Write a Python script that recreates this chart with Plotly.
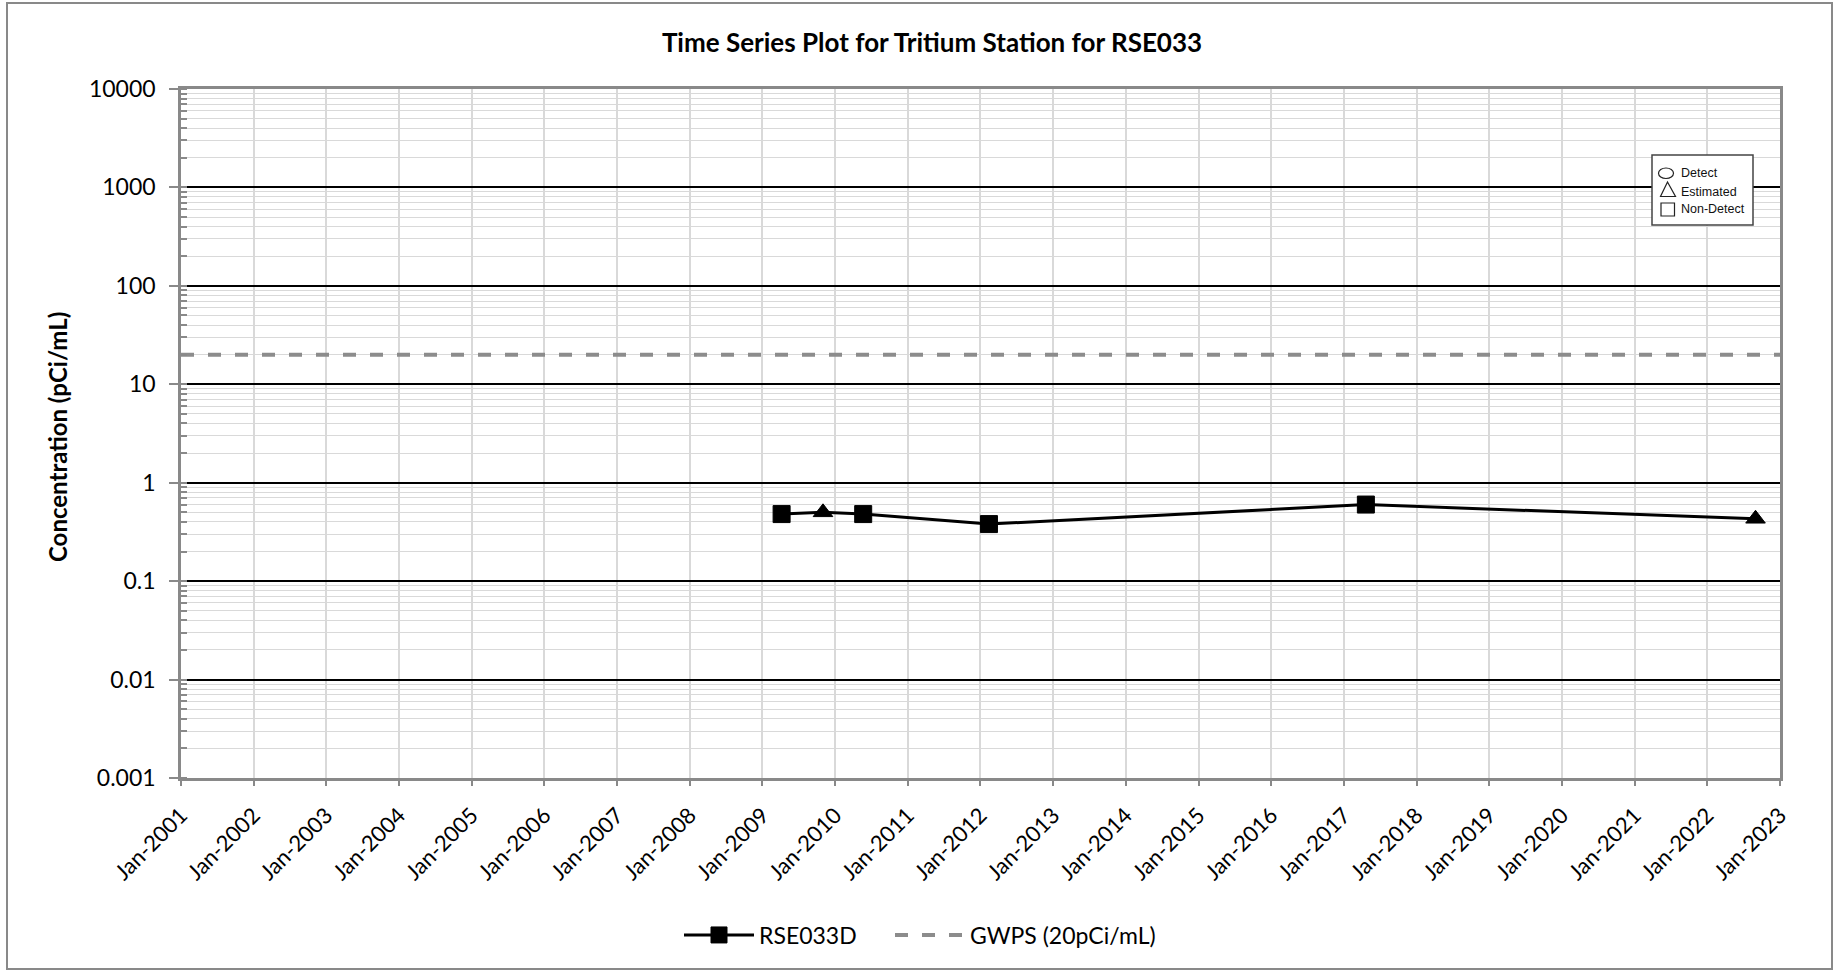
import plotly.graph_objects as go

# ---- data ----
sample_dates = ["2009-04-07", "2009-11-01", "2010-05-22", "2012-02-13", "2017-04-21", "2022-08-31"]
tritium_values = [0.48, 0.50, 0.48, 0.38, 0.60, 0.43]
sample_symbols = ["square", "triangle-up", "square", "square", "square", "triangle-up"]
gwps_dates = ["2001-01-01", "2023-01-01"]
gwps_values = [20, 20]
y_tickvals = [0.001, 0.01, 0.1, 1, 10, 100, 1000, 10000]
y_ticktext = ["0.001", "0.01", "0.1", "1", "10", "100", "1000", "10000"]

# ---- layout geometry (pixels) ----
FW, FH = 1835, 970
L, R, T, B = 181, 1780, 89, 778
PW, PH = R - L, B - T


def xp(px):
    return (px - L) / PW


def yp(py):
    return (B - py) / PH


FONT = "Lato, Carlito, 'Open Sans', sans-serif"
GRAY = "#898989"

fig = go.Figure()

fig.add_trace(go.Scatter(
    x=gwps_dates, y=gwps_values, mode="lines", name="GWPS (20pCi/mL)", legend="legend2",
    line=dict(color="#8c8c8c", width=4, dash="13px,14px"),
))
fig.add_trace(go.Scatter(
    x=sample_dates, y=tritium_values, mode="lines+markers", name="RSE033D", legend="legend",
    line=dict(color="black", width=3),
    marker=dict(symbol=sample_symbols, size=17, color="black", line=dict(color="black", width=1)),
))

shapes = [
    # outer chart border
    dict(type="rect", xref="paper", yref="paper", x0=xp(7), x1=xp(1832), y0=yp(969), y1=yp(3),
         line=dict(color=GRAY, width=2), fillcolor="rgba(0,0,0,0)", layer="below"),
    # symbol key box
    dict(type="rect", xref="paper", yref="paper", x0=xp(1652), x1=xp(1753), y0=yp(225), y1=yp(155),
         line=dict(color="#444444", width=1.5), fillcolor="white", layer="above"),
    dict(type="circle", xref="paper", yref="paper", x0=xp(1658.5), x1=xp(1673.5), y0=yp(178.5), y1=yp(168),
         line=dict(color="#222222", width=1.2), fillcolor="white"),
    dict(type="path", xref="paper", yref="paper",
         path=f"M {xp(1667.5)} {yp(182)} L {xp(1675.5)} {yp(196.5)} L {xp(1660.5)} {yp(196.5)} Z",
         line=dict(color="#222222", width=1.2), fillcolor="white"),
    dict(type="rect", xref="paper", yref="paper", x0=xp(1661), x1=xp(1674.5), y0=yp(216), y1=yp(203),
         line=dict(color="#222222", width=1.2), fillcolor="white"),
]

annotations = [
    dict(text="Detect", x=xp(1679), y=yp(173.3)),
    dict(text="Estimated", x=xp(1679), y=yp(191.5)),
    dict(text="Non-Detect", x=xp(1679), y=yp(208.5)),
]
annotations = [dict(a, xref="paper", yref="paper", xanchor="left", yanchor="middle", showarrow=False,
                    font=dict(family="'Liberation Sans', Arial, sans-serif", size=12.5, color="#111"))
               for a in annotations]
annotations.append(dict(
    text="<b>Concentration (pCi/mL)</b>", textangle=-90, x=xp(57), y=yp(437),
    xref="paper", yref="paper", xanchor="center", yanchor="middle", showarrow=False,
    font=dict(family=FONT, size=24, color="black"),
))

legend_common = dict(orientation="h", xanchor="left", yanchor="middle", itemwidth=70,
                     font=dict(family=FONT, size=23, color="black"), bgcolor="rgba(0,0,0,0)")

fig.update_layout(
    width=FW, height=FH,
    margin=dict(l=L, r=FW - R, t=T, b=FH - B, pad=0),
    paper_bgcolor="white", plot_bgcolor="white",
    font=dict(family=FONT, color="black", size=22),
    title=dict(text="<b>Time Series Plot for Tritium Station for RSE033</b>",
               x=932 / FW, xanchor="center", y=1 - 43 / FH, yanchor="middle",
               font=dict(family=FONT, size=26, color="black")),
    showlegend=True,
    legend=dict(legend_common, x=xp(679), y=yp(935)),
    legend2=dict(legend_common, x=xp(890), y=yp(935)),
    shapes=shapes,
    annotations=annotations,
)

fig.update_xaxes(
    type="date", range=["2001-01-01", "2023-01-01"],
    tickmode="linear", tick0="2001-01-01", dtick="M12", tickformat="%b-%Y",
    tickangle=-45, tickfont=dict(family=FONT, size=22), ticklabelstandoff=8,
    showgrid=True, gridcolor="#d9d9d9", gridwidth=1.5,
    ticks="outside", ticklen=5, tickcolor=GRAY, tickwidth=1.5,
    showline=True, linecolor=GRAY, linewidth=2.5, mirror=True, zeroline=False,
)
fig.update_yaxes(
    type="log", range=[-3, 4],
    tickmode="array", tickvals=y_tickvals, ticktext=y_ticktext,
    tickfont=dict(family=FONT, size=23), ticklabelstandoff=9,
    showgrid=True, gridcolor="black", gridwidth=2,
    ticks="outside", ticklen=9, tickcolor=GRAY, tickwidth=2,
    minor=dict(dtick="D1", showgrid=True, gridcolor="#d9d9d9", gridwidth=1.2,
               ticks="inside", ticklen=6, tickcolor=GRAY, tickwidth=1.5),
    showline=True, linecolor=GRAY, linewidth=2.5, mirror=True, zeroline=False,
)

fig.write_html("out.html", config={"displayModeBar": False},
               post_script="document.body.style.margin='0px';")
